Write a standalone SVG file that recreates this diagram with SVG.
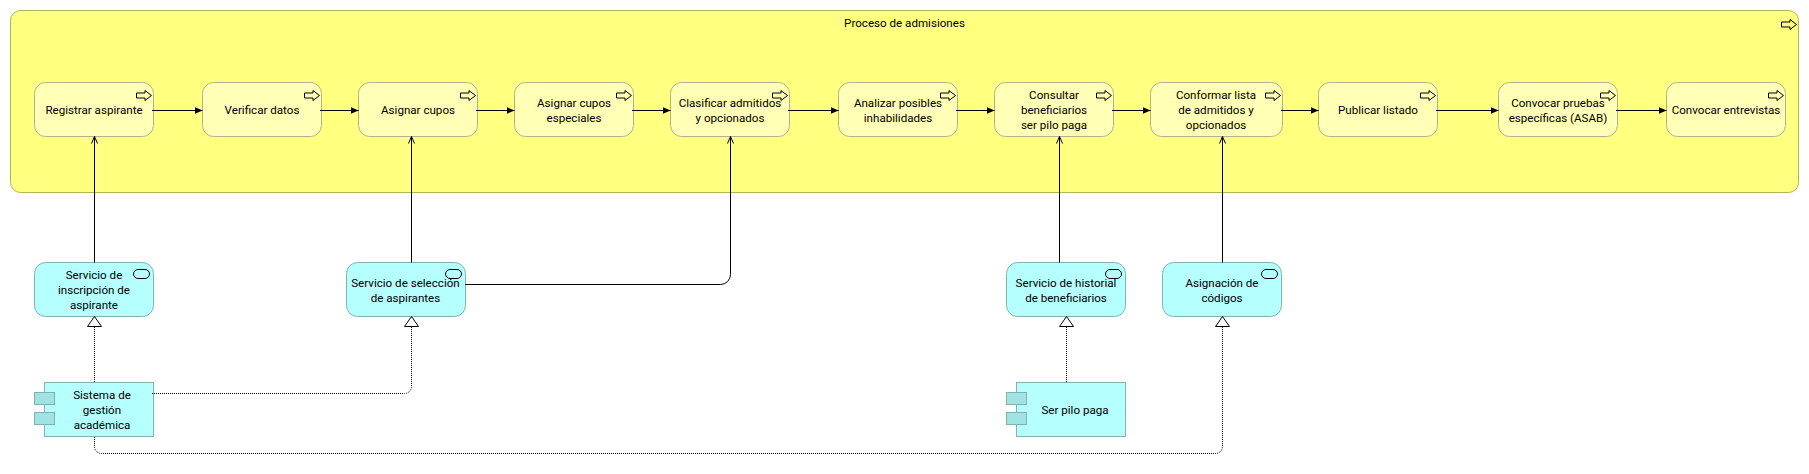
<svg xmlns="http://www.w3.org/2000/svg" width="1809" height="474" viewBox="0 0 1809 474">
<style>
text{font-family:Roboto,"Liberation Sans",sans-serif;font-size:11.6px;fill:#000;text-anchor:middle}
.proc{fill:#ffff80;stroke:#b3b359}
.act{fill:#ffffb5;stroke:#b3b38a}
.svc{fill:#b5ffff;stroke:#7fb3b3}
.tab{fill:#a1e3e3;stroke:#7fb3b3}
.ic{fill:none;stroke:#000}
.flow{fill:none;stroke:#000}
.serve{fill:none;stroke:#000}
.real{fill:none;stroke:#000;stroke-dasharray:1 1}
</style>
<defs>
<marker id="flowHead" markerUnits="userSpaceOnUse" markerWidth="9" markerHeight="8" refX="8" refY="4" orient="auto"><path d="M0 0.5L8 4L0 7.5Z" fill="#000"/></marker>
<marker id="serveHead" markerUnits="userSpaceOnUse" markerWidth="9" markerHeight="9" refX="8" refY="4" orient="auto"><path d="M1 1L8 4L1 7" fill="none" stroke="#000"/></marker>
<marker id="realHead" markerUnits="userSpaceOnUse" markerWidth="12" markerHeight="16" refX="10.5" refY="7.5" orient="auto"><path d="M0.5 0.5L10.5 7.5L0.5 14.5Z" fill="#fff" stroke="#000"/></marker>
<path id="pa" d="M-17 2.5H-8.500V0L-2 5L-8.500 10V7.500H-17Z" fill="none" stroke="#000"/>
</defs>
<g id="proceso"><rect class="proc" x="10.5" y="10.5" width="1788" height="182" rx="10"/><text x="904.5" y="27">Proceso de admisiones</text><use href="#pa" x="1798.5" y="19.5"/></g>
<g id="a1"><rect class="act" x="34.5" y="82.5" width="119" height="54" rx="11"/><use href="#pa" x="153.5" y="90.5"/><text x="94" y="114">Registrar aspirante</text></g>
<g id="a2"><rect class="act" x="202.5" y="82.5" width="119" height="54" rx="11"/><use href="#pa" x="321.5" y="90.5"/><text x="262" y="114">Verificar datos</text></g>
<g id="a3"><rect class="act" x="358.5" y="82.5" width="119" height="54" rx="11"/><use href="#pa" x="477.5" y="90.5"/><text x="418" y="114">Asignar cupos</text></g>
<g id="a4"><rect class="act" x="514.5" y="82.5" width="119" height="54" rx="11"/><use href="#pa" x="633.5" y="90.5"/><text x="574" y="106.500">Asignar cupos</text><text x="574" y="121.500">especiales</text></g>
<g id="a5"><rect class="act" x="670.5" y="82.5" width="119" height="54" rx="11"/><use href="#pa" x="789.5" y="90.500"/><text x="730" y="106.500">Clasificar admitidos</text><text x="730" y="121.500">y opcionados</text></g>
<g id="a6"><rect class="act" x="838.5" y="82.5" width="119" height="54" rx="11"/><use href="#pa" x="957.5" y="90.5"/><text x="898" y="106.500">Analizar posibles</text><text x="898" y="121.500">inhabilidades</text></g>
<g id="a7"><rect class="act" x="994.5" y="82.5" width="119" height="54" rx="11"/><use href="#pa" x="1113.5" y="90.5"/><text x="1054" y="99">Consultar</text><text x="1054" y="114">beneficiarios</text><text x="1054" y="129">ser pilo paga</text></g>
<g id="a8"><rect class="act" x="1150.5" y="82.5" width="132" height="54" rx="11"/><use href="#pa" x="1282.500" y="90.5"/><text x="1216" y="99">Conformar lista</text><text x="1216" y="114">de admitidos y</text><text x="1216" y="129">opcionados</text></g>
<g id="a9"><rect class="act" x="1318.5" y="82.5" width="119" height="54" rx="11"/><use href="#pa" x="1437.5" y="90.5"/><text x="1378" y="114">Publicar listado</text></g>
<g id="a10"><rect class="act" x="1498.5" y="82.5" width="119" height="54" rx="11"/><use href="#pa" x="1617.5" y="90.5"/><text x="1558" y="106.500">Convocar pruebas</text><text x="1558" y="121.500">específicas (ASAB)</text></g>
<g id="a11"><rect class="act" x="1666.5" y="82.5" width="119" height="54" rx="11"/><use href="#pa" x="1785.5" y="90.5"/><text x="1726" y="114">Convocar entrevistas</text></g>
<g id="s1"><rect class="svc" x="34.5" y="262.5" width="119" height="54" rx="11"/><rect class="ic" x="133.500" y="269.5" width="16" height="9" rx="4.500"/><text x="94" y="279">Servicio de</text><text x="94" y="294">inscripción de</text><text x="94" y="309">aspirante</text></g>
<g id="s2"><rect class="svc" x="346.5" y="262.5" width="119" height="54" rx="11"/><rect class="ic" x="445.500" y="269.5" width="16" height="9" rx="4.500"/><text x="405.500" y="286.500">Servicio de selección</text><text x="405.500" y="301.500">de aspirantes</text></g>
<g id="s3"><rect class="svc" x="1006.5" y="262.5" width="119" height="54" rx="11"/><rect class="ic" x="1105.5" y="269.5" width="16" height="9" rx="4.500"/><text x="1066" y="286.500">Servicio de historial</text><text x="1066" y="301.500">de beneficiarios</text></g>
<g id="s4"><rect class="svc" x="1162.5" y="262.5" width="119" height="54" rx="11"/><rect class="ic" x="1261.5" y="269.5" width="16" height="9" rx="4.500"/><text x="1222" y="286.500">Asignación de</text><text x="1222" y="301.500">códigos</text></g>
<g id="c1"><rect class="svc" x="44.5" y="382.5" width="109" height="54"/><rect class="tab" x="34.5" y="392.5" width="20" height="12"/><rect class="tab" x="34.5" y="412.5" width="20" height="12"/><text x="102" y="399">Sistema de</text><text x="102" y="414">gestión</text><text x="102" y="429">académica</text></g>
<g id="c2"><rect class="svc" x="1016.5" y="382.5" width="109" height="54"/><rect class="tab" x="1006.5" y="392.5" width="20" height="12"/><rect class="tab" x="1006.5" y="412.5" width="20" height="12"/><text x="1075" y="414">Ser pilo paga</text></g>
<g id="connectors">
<path class="flow" marker-end="url(#flowHead)" d="M152 110.500H202.500"/>
<path class="flow" marker-end="url(#flowHead)" d="M320 110.500H358.500"/>
<path class="flow" marker-end="url(#flowHead)" d="M476 110.500H514.500"/>
<path class="flow" marker-end="url(#flowHead)" d="M632 110.500H670.500"/>
<path class="flow" marker-end="url(#flowHead)" d="M788 110.500H838.500"/>
<path class="flow" marker-end="url(#flowHead)" d="M956 110.500H994.500"/>
<path class="flow" marker-end="url(#flowHead)" d="M1112 110.500H1150.500"/>
<path class="flow" marker-end="url(#flowHead)" d="M1281 110.500H1318.500"/>
<path class="flow" marker-end="url(#flowHead)" d="M1436 110.500H1498.500"/>
<path class="flow" marker-end="url(#flowHead)" d="M1616 110.500H1666.500"/>
<path class="serve" marker-end="url(#serveHead)" d="M94.500 262.500V136.500"/>
<path class="serve" marker-end="url(#serveHead)" d="M411.500 262.500V136.500"/>
<path class="serve" marker-end="url(#serveHead)" d="M465 284.500H720.500A10 10 0 0 0 730.500 274.500V136.500"/>
<path class="serve" marker-end="url(#serveHead)" d="M1059.500 262.500V136.500"/>
<path class="serve" marker-end="url(#serveHead)" d="M1222.500 262.500V136.500"/>
<path class="real" marker-end="url(#realHead)" d="M94.500 382V316.500"/>
<path class="real" marker-end="url(#realHead)" d="M152 393.500H404.500A7 7 0 0 0 411.500 386.500V316.500"/>
<path class="real" marker-end="url(#realHead)" d="M94.500 437V446.500A7 7 0 0 0 101.500 453.500H1215.500A7 7 0 0 0 1222.500 446.500V316.500"/>
<path class="real" marker-end="url(#realHead)" d="M1066.500 382V316.500"/>
</g>
</svg>
